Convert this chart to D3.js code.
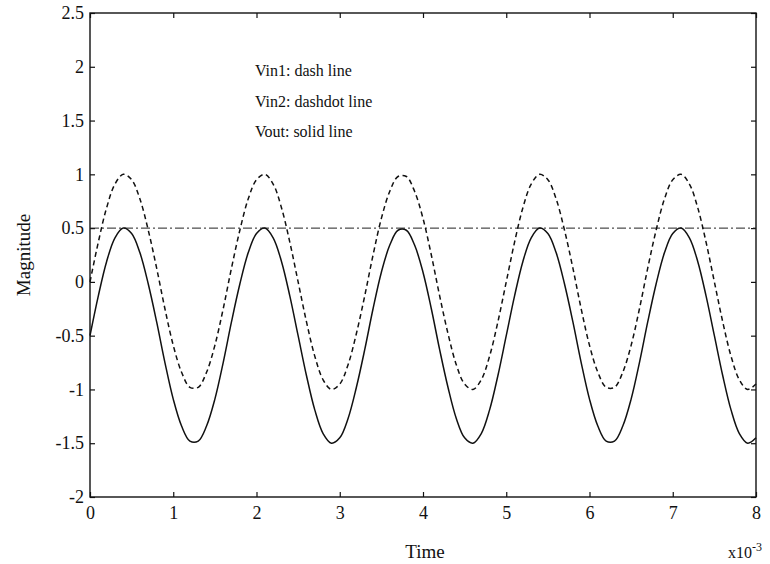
<!DOCTYPE html>
<html>
<head>
<meta charset="utf-8">
<script src="https://cdn.jsdelivr.net/npm/d3@7"></script>
<style>
  body { margin: 0; background: #fff; }
  text { font-family: "Liberation Serif", "DejaVu Serif", serif; fill: #111; }
</style>
</head>
<body>
<svg width="770" height="564"></svg>
<script>
// time samples (x10^-3 s), step 0.1
const time = d3.range(0, 81).map(i => +(i * 0.1).toFixed(1));

// Vin1 (dash line)
const vin1 = [
  0, 0.37, 0.69, 0.91, 1.0, 0.95, 0.77, 0.48, 0.13, -0.25,
  -0.59, -0.84, -0.98, -0.98, -0.84, -0.59, -0.25, 0.13, 0.48, 0.77,
  0.95, 1.0, 0.91, 0.69, 0.37, 0, -0.37, -0.69, -0.91, -1.0,
  -0.95, -0.77, -0.48, -0.13, 0.25, 0.59, 0.84, 0.98, 0.98, 0.84,
  0.59, 0.25, -0.13, -0.48, -0.77, -0.95, -1.0, -0.91, -0.69, -0.37,
  0, 0.37, 0.69, 0.91, 1.0, 0.95, 0.77, 0.48, 0.13, -0.25,
  -0.59, -0.84, -0.98, -0.98, -0.84, -0.59, -0.25, 0.13, 0.48, 0.77,
  0.95, 1.0, 0.91, 0.69, 0.37, 0, -0.37, -0.69, -0.91, -1.0, -0.95];

// Vout (solid line)
const vout = [
  -0.5, -0.13, 0.19, 0.41, 0.5, 0.45, 0.27, -0.02, -0.37, -0.75,
  -1.09, -1.34, -1.48, -1.48, -1.34, -1.09, -0.75, -0.37, -0.02, 0.27,
  0.45, 0.5, 0.41, 0.19, -0.13, -0.5, -0.87, -1.19, -1.41, -1.5,
  -1.45, -1.27, -0.98, -0.63, -0.25, 0.09, 0.34, 0.48, 0.48, 0.34,
  0.09, -0.25, -0.63, -0.98, -1.27, -1.45, -1.5, -1.41, -1.19, -0.87,
  -0.5, -0.13, 0.19, 0.41, 0.5, 0.45, 0.27, -0.02, -0.37, -0.75,
  -1.09, -1.34, -1.48, -1.48, -1.34, -1.09, -0.75, -0.37, -0.02, 0.27,
  0.45, 0.5, 0.41, 0.19, -0.13, -0.5, -0.87, -1.19, -1.41, -1.5, -1.45];

// Vin2 (dashdot line), constant
const vin2Time = [0, 8];
const vin2 = [0.5, 0.5];

const xTicks = [0, 1, 2, 3, 4, 5, 6, 7, 8];
const yTicks = [-2, -1.5, -1, -0.5, 0, 0.5, 1, 1.5, 2, 2.5];
const legendLines = ["Vin1: dash line", "Vin2: dashdot line", "Vout: solid line"];

const mLeft = 90, mRight = 756, mTop = 13, mBottom = 497;

const svg = d3.select("svg");

const x = d3.scaleLinear().domain([0, 8]).range([mLeft, mRight]);
const y = d3.scaleLinear().domain([-2, 2.5]).range([mBottom, mTop]);

const fmt = d => String(d);

// axes with inward ticks
svg.append("g")
  .attr("transform", `translate(0,${mBottom})`)
  .call(d3.axisBottom(x).tickValues(xTicks).tickSize(-5).tickPadding(9).tickFormat(fmt))
  .call(g => g.select(".domain").remove());

svg.append("g")
  .attr("transform", `translate(0,${mTop})`)
  .call(d3.axisTop(x).tickValues(xTicks).tickSize(-5).tickFormat(""))
  .call(g => g.select(".domain").remove());

svg.append("g")
  .attr("transform", `translate(${mLeft},0)`)
  .call(d3.axisLeft(y).tickValues(yTicks).tickSize(-5).tickPadding(6).tickFormat(fmt))
  .call(g => g.select(".domain").remove());

svg.append("g")
  .attr("transform", `translate(${mRight},0)`)
  .call(d3.axisRight(y).tickValues(yTicks).tickSize(-5).tickFormat(""))
  .call(g => g.select(".domain").remove());

svg.selectAll(".tick text")
  .style("font-size", "18px")
  .style("font-family", "'Liberation Serif', serif")
  .attr("fill", "#111");
svg.selectAll(".tick line").attr("stroke", "#111").attr("stroke-width", 1.2);

// plot frame
svg.append("rect")
  .attr("x", mLeft).attr("y", mTop)
  .attr("width", mRight - mLeft).attr("height", mBottom - mTop)
  .attr("fill", "none").attr("stroke", "#111").attr("stroke-width", 1.4);

const line = d3.line()
  .x(d => x(d[0]))
  .y(d => y(d[1]))
  .curve(d3.curveCatmullRom);

const plot = svg.append("g");

plot.append("path")
  .datum(vin2Time.map((t, i) => [t, vin2[i]]))
  .attr("d", line)
  .attr("fill", "none").attr("stroke", "#222").attr("stroke-width", 1)
  .attr("stroke-dasharray", "9,3,2,3");

plot.append("path")
  .datum(time.map((t, i) => [t, vin1[i]]))
  .attr("d", line)
  .attr("fill", "none").attr("stroke", "#111").attr("stroke-width", 1.5)
  .attr("stroke-dasharray", "5,3.5");

plot.append("path")
  .datum(time.map((t, i) => [t, vout[i]]))
  .attr("d", line)
  .attr("fill", "none").attr("stroke", "#111").attr("stroke-width", 1.5);

// legend text
svg.append("g").selectAll("text")
  .data(legendLines)
  .join("text")
  .attr("x", 255)
  .attr("y", (d, i) => 76 + i * 30.5)
  .style("font-size", "16px")
  .text(d => d);

// axis labels
svg.append("text")
  .attr("x", 425).attr("y", 558)
  .attr("text-anchor", "middle")
  .style("font-size", "19px")
  .text("Time");

svg.append("text")
  .attr("transform", `translate(30,${(mTop + mBottom) / 2}) rotate(-90)`)
  .attr("text-anchor", "middle")
  .style("font-size", "19px")
  .text("Magnitude");

const exp = svg.append("text")
  .attr("x", 728).attr("y", 558)
  .style("font-size", "16px");
exp.append("tspan").text("x10");
exp.append("tspan").attr("dy", -7).style("font-size", "12px").text("-3");
</script>
</body>
</html>
